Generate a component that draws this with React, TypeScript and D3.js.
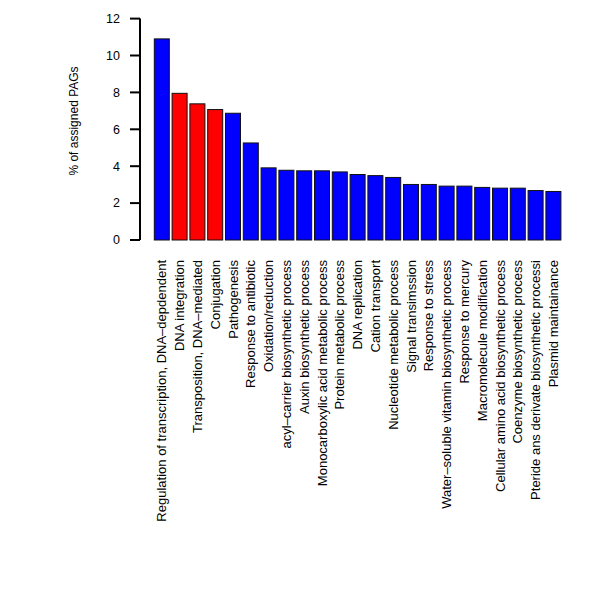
import React from "react";
import * as d3 from "d3";

const categories: string[] = [
  "Regulation of transcription, DNA\u2013depdendent",
  "DNA integration",
  "Transposition, DNA\u2013mediated",
  "Conjugation",
  "Pathogenesis",
  "Response to antibiotic",
  "Oxidation/reduction",
  "acyl\u2013carrier biosynthetic process",
  "Auxin biosynthetic process",
  "Monocarboxylic acid metabolic process",
  "Protein metabolic process",
  "DNA replication",
  "Cation transport",
  "Nucleotide metabolic process",
  "Signal transimssion",
  "Response to stress",
  "Water\u2013soluble vitamin biosynthetic process",
  "Response to mercury",
  "Macromolecule modification",
  "Cellular amino acid biosynthetic process",
  "Coenzyme biosynthetic process",
  "Pteride ans derivate biosynthetic processi",
  "Plasmid maintainance",
];

const values: number[] = [
  10.9, 7.95, 7.38, 7.07, 6.87, 5.26, 3.91, 3.78, 3.75, 3.75, 3.69, 3.55,
  3.49, 3.39, 3.01, 3.01, 2.92, 2.92, 2.85, 2.81, 2.81, 2.68, 2.63,
];

const highlighted: string[] = ["DNA integration", "Transposition, DNA\u2013mediated", "Conjugation"];

const yTicks: number[] = [0, 2, 4, 6, 8, 10, 12];

const yTitle = "% of assigned PAGs";

export default function App() {
  const width = 600;
  const height = 600;
  const font = "'Liberation Sans', Arial, Helvetica, sans-serif";

  const y = d3.scaleLinear().domain([0, 12]).range([240, 18.6]);
  const x = d3
    .scaleBand<string>()
    .domain(categories)
    .range([152.9, 152.9 + 17.8 * categories.length])
    .paddingInner(0.157)
    .paddingOuter(0.0785);

  const axisX = 140;

  return (
    <svg
      width={width}
      height={height}
      style={{ position: "absolute", left: 0, top: 0, background: "#fff" }}
      fontFamily={font}
    >
      {/* bars */}
      {categories.map((c, i) => (
        <rect
          key={c}
          x={x(c)}
          y={y(values[i])}
          width={x.bandwidth()}
          height={y(0) - y(values[i])}
          fill={highlighted.includes(c) ? "#ff0000" : "#0000ff"}
          stroke="#111"
          strokeWidth={1}
        />
      ))}

      {/* y axis */}
      <line
        x1={axisX}
        x2={axisX}
        y1={y(0)}
        y2={y(12)}
        stroke="#000"
        strokeWidth={2}
      />
      {yTicks.map((t) => (
        <g key={t}>
          <line
            x1={axisX - 10}
            x2={axisX}
            y1={y(t)}
            y2={y(t)}
            stroke="#000"
            strokeWidth={2}
          />
          <text
            x={120}
            y={y(t)}
            dy="0.35em"
            textAnchor="end"
            fontSize={12.5}
            fill="#000"
          >
            {t}
          </text>
        </g>
      ))}

      {/* y title */}
      <text
        transform={`translate(78,121) rotate(-90)`}
        textAnchor="middle"
        fontSize={12}
        fill="#000"
      >
        {yTitle}
      </text>

      {/* x labels */}
      {categories.map((c) => (
        <text
          key={c}
          transform={`translate(${(x(c) as number) + x.bandwidth() / 2},260) rotate(-90)`}
          textAnchor="end"
          dy="0.35em"
          fontSize={13}
          fill="#000"
        >
          {c}
        </text>
      ))}
    </svg>
  );
}
